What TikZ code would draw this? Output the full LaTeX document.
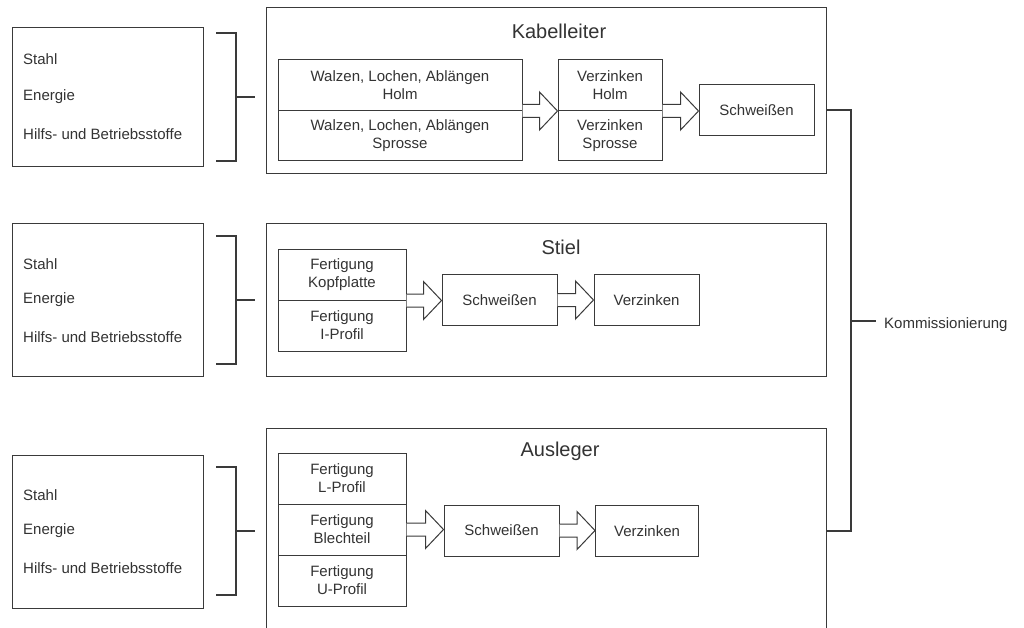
\documentclass[tikz,border=0pt]{standalone}
\usepackage{fontspec}
\setmainfont{Liberation Sans}
\usetikzlibrary{calc}
\definecolor{ln}{HTML}{3A3A3A}
\definecolor{txt}{HTML}{333333}
\newcommand\blockarrow[2]{%
  \draw[barrow] let \p1=(#1), \p2=(#2) in
    (\x1,{\y1+6.5pt}) -- ({\x2-18pt},{\y1+6.5pt}) -- ({\x2-18pt},{\y1+19pt}) --
    (\x2,\y1) -- ({\x2-18pt},{\y1-19pt}) -- ({\x2-18pt},{\y1-6.5pt}) -- (\x1,{\y1-6.5pt});}
\begin{document}
\begin{tikzpicture}[x=1pt,y=-1pt,
  every node/.style={text=txt, font=\fontsize{15}{18}\selectfont},
  box/.style={draw=ln, line width=1pt, inner sep=0pt, align=center},
  ttl/.style={font=\fontsize{20}{24}\selectfont},
  lbl/.style={anchor=west, inner sep=0pt},
  brk/.style={draw=ln, line width=2pt},
  barrow/.style={draw=ln, line width=1pt, fill=white, line join=miter}]
\useasboundingbox (0,0) rectangle (1024,628);
\clip (0,0) rectangle (1024,628);
\fill[white] (0,0) rectangle (1024,628);

% ---------- input boxes ----------
\foreach \n/\cy/\h/\ta/\tb/\tc in {1/97.5/139/59/97/134, 2/300/152/264/300/337, 3/531.5/153/495/531/568}{
  \node[box, minimum width=191, minimum height=\h] (in\n) at (107.5,\cy) {};
  \node[lbl] (st\n) at (23,\ta) {Stahl};
  \node[lbl] (en\n) at (23,\tb) {Energie};
  \node[lbl] (hb\n) at (23,\tc) {Hilfs- und Betriebsstoffe};
}
% ---------- brackets ----------
\foreach \t/\b/\m in {33/161/97, 236/364/300, 467/595/531}{
  \draw[brk] (216,\t) -- (236,\t) -- (236,\b) -- (216,\b);
  \draw[brk] (236,\m) -- (255,\m);
}

% ---------- Kabelleiter ----------
\node[box, minimum width=560, minimum height=166] (kab) at (546,91) {};
\node[ttl] (kabt) at (559,31) {Kabelleiter};
\node[box, minimum width=244, minimum height=50.5] (w1) at (400,85.25) {Walzen, Lochen, Ablängen\\Holm};
\node[box, minimum width=244, minimum height=50.5] (w2) at (400,135.75) {Walzen, Lochen, Ablängen\\Sprosse};
\node[box, minimum width=104, minimum height=50.5] (v1) at (610,85.25) {Verzinken\\Holm};
\node[box, minimum width=104, minimum height=50.5] (v2) at (610,135.75) {Verzinken\\Sprosse};
\node[box, minimum width=115, minimum height=51] (sch1) at (756.5,110.5) {Schweißen};
\blockarrow{w1.south east}{v1.south west}
\blockarrow{v1.south east}{sch1.west}

% ---------- Stiel ----------
\node[box, minimum width=560, minimum height=152] (stiel) at (546,300) {};
\node[ttl] (stielt) at (561,247) {Stiel};
\node[box, minimum width=128, minimum height=51] (f1) at (342,274.5) {Fertigung\\Kopfplatte};
\node[box, minimum width=128, minimum height=51] (f2) at (342,325.5) {Fertigung\\I-Profil};
\node[box, minimum width=115, minimum height=51] (s2) at (499.5,300) {Schweißen};
\node[box, minimum width=105, minimum height=51] (z2) at (646.5,300) {Verzinken};
\blockarrow{f1.south east}{s2.west}
\blockarrow{s2.east}{z2.west}

% ---------- Ausleger ----------
\node[box, minimum width=560, minimum height=240] (aus) at (546,548) {};
\node[ttl] (aust) at (560,451) {Ausleger};
\node[box, minimum width=128, minimum height=51] (g1) at (342,478.5) {Fertigung\\L-Profil};
\node[box, minimum width=128, minimum height=51] (g2) at (342,529.5) {Fertigung\\Blechteil};
\node[box, minimum width=128, minimum height=51] (g3) at (342,580.5) {Fertigung\\U-Profil};
\node[box, minimum width=115, minimum height=51] (s3) at (501.5,530.5) {Schweißen};
\node[box, minimum width=103, minimum height=51] (z3) at (647,531) {Verzinken};
\blockarrow{g2.east}{s3.west}
\blockarrow{s3.east}{z3.west}

% ---------- Kommissionierung ----------
\coordinate (kt) at (851,110.5);
\coordinate (kb) at (851,531);
\coordinate (km) at (851,321);
\coordinate (kr) at (876,321);
\draw[brk] (sch1.east -| kab.east) -- (kt) -- (kb) -- (kb -| aus.east);
\draw[brk] (km) -- (kr);
\node[lbl] (komm) at (884,325) {Kommissionierung};
\end{tikzpicture}
\end{document}
